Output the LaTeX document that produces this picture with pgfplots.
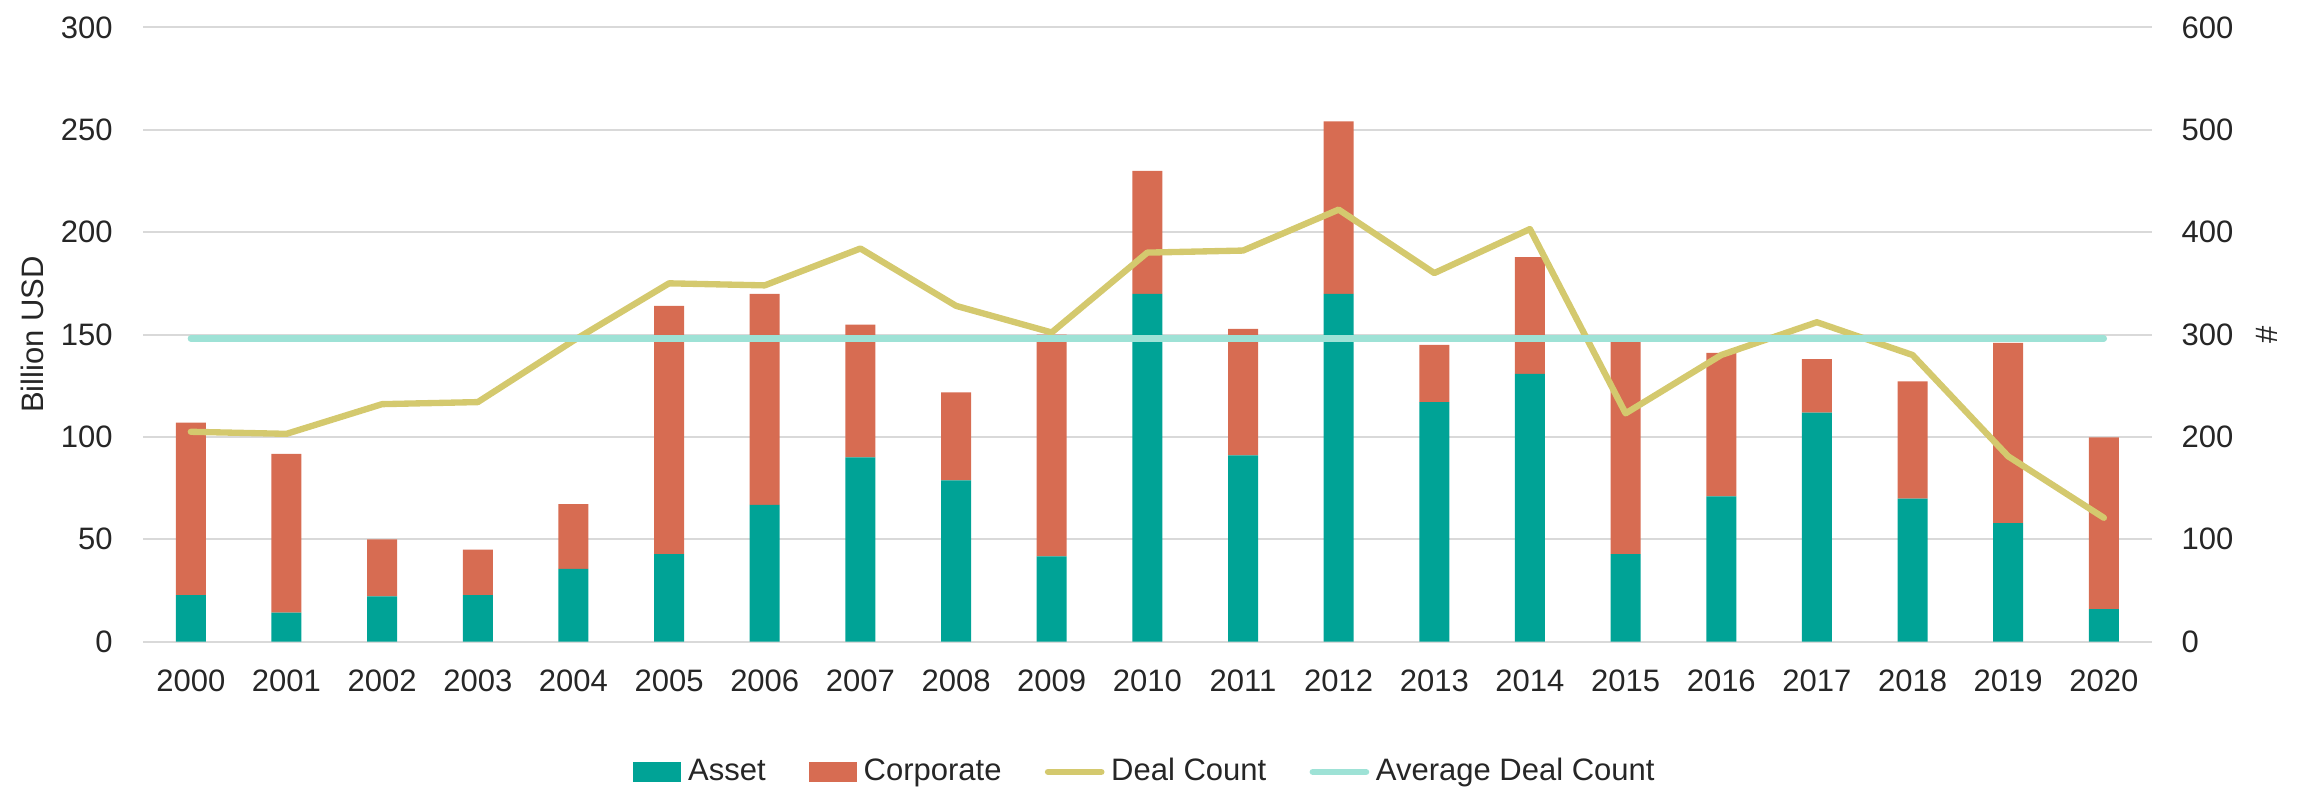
\documentclass[border=0pt]{standalone}
\usepackage{pgfplots}
\pgfplotsset{compat=1.18}
\usepackage{pgfplotstable}
\usepackage{fontspec}
\setmainfont{Liberation Sans}
\definecolor{assetcol}{RGB}{0,163,150}
\definecolor{corpcol}{RGB}{215,108,82}
\definecolor{dealcol}{RGB}{212,201,110}
\definecolor{avgcol}{RGB}{158,226,214}
\definecolor{gridcol}{RGB}{217,217,217}
\definecolor{txtcol}{RGB}{38,38,38}

\pgfplotstableread{
x asset corp count avg
0 22.7 84.3 205 296
1 14.2 77.5 203 296
2 22.1 27.9 232 296
3 22.7 22.3 234 296
4 35.6 31.6 294 296
5 42.8 121.2 350 296
6 66.8 103.1 348 296
7 90.0 64.8 384 296
8 78.8 43.0 328 296
9 41.7 108.3 302 296
10 169.9 60.0 380 296
11 91.0 61.8 382 296
12 169.9 84.2 422 296
13 117.0 28.0 360 296
14 130.8 57.0 403 296
15 42.8 103.7 223 296
16 71.0 70.0 280 296
17 111.8 26.2 312 296
18 69.9 57.2 280 296
19 57.9 88.0 181 296
20 15.9 83.9 121 296
}\data

\pgfplotsset{
  common/.style={
    scale only axis,
    width=602.6pt, height=184.3pt,
    at={(42.9pt,44.2pt)}, anchor=south west,
    xmin=-0.5, xmax=20.5,
    /pgf/number format/assume math mode=true,
    tick style={draw=none},
    axis line style={draw=none},
    every tick label/.append style={text=txtcol},
    label style={text=txtcol},
  }
}

\begin{document}
\fontsize{9.3}{11.2}\selectfont
\begin{tikzpicture}
\path[use as bounding box] (0,0) rectangle (690pt,236.7pt);
\begin{axis}[common,
  ymin=0, ymax=300,
  ytick={0,50,...,300},
  ymajorgrids,
  major grid style={draw=gridcol, line width=0.6pt},
  xtick={0,...,20},
  xticklabels={2000,2001,2002,2003,2004,2005,2006,2007,2008,2009,2010,2011,2012,2013,2014,2015,2016,2017,2018,2019,2020},
  xticklabel style={yshift=-5.3pt},
  yticklabel style={xshift=-5.8pt},
  ylabel={Billion USD},
  ylabel style={at={(axis description cs:-0.0553,0.5)}, anchor=center},
  ybar stacked, bar width=9pt,
  /pgf/number format/1000 sep={},
]
\addplot[fill=assetcol, draw=none] table[x=x, y=asset] {\data};
\addplot[fill=corpcol, draw=none] table[x=x, y=corp] {\data};
\end{axis}
\begin{axis}[common,
  ymin=0, ymax=600,
  ytick={0,100,...,600},
  axis y line*=right,
  hide x axis,
  yticklabel style={xshift=5.7pt},
  ylabel={\#},
  ylabel style={at={(axis description cs:1.0573,0.5)}, anchor=center, rotate=0},
  legend columns=4,
  legend style={draw=none, fill=none, at={(0.5,-0.212)}, anchor=center,
    /tikz/every even column/.append style={column sep=11pt},
    text=txtcol},
]
\addlegendimage{legend image code/.code={\fill[assetcol] (0pt,-2.8pt) rectangle (14pt,2.8pt);}}
\addlegendentry{Asset}
\addlegendimage{legend image code/.code={\fill[corpcol] (0pt,-2.8pt) rectangle (14pt,2.8pt);}}
\addlegendentry{Corporate}
\addplot[color=dealcol, line width=1.9pt, line cap=round, line join=round,
  legend image code/.code={\draw[dealcol, line width=1.9pt, line cap=round] (0pt,0pt) -- (16pt,0pt);}]
  table[x=x, y=count] {\data};
\addlegendentry{Deal Count}
\addplot[color=avgcol, line width=1.9pt, line cap=round,
  legend image code/.code={\draw[avgcol, line width=1.9pt, line cap=round] (0pt,0pt) -- (16pt,0pt);}]
  table[x=x, y=avg] {\data};
\addlegendentry{Average Deal Count}
\end{axis}
\end{tikzpicture}
\end{document}
